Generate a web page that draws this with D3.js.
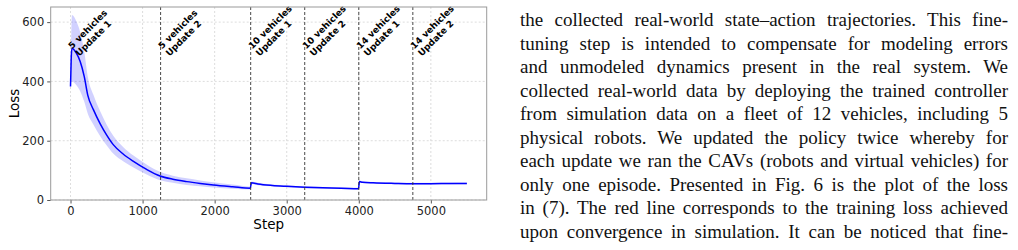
<!DOCTYPE html>
<html>
<head>
<meta charset="utf-8">
<script src="https://cdn.jsdelivr.net/npm/d3@7"></script>
<style>
  body { margin: 0; background: #fff; }
  #wrap { position: relative; width: 1018px; height: 250px; overflow: hidden; }
  #chart { position: absolute; left: 0; top: 0; }
  #para { position: absolute; left: 520px; top: 8px; width: 488px;
          font-family: "Liberation Serif", "Times New Roman", serif; font-size: 19px;
          line-height: 23.5px; color: #111; }
  #para div { text-align: justify; text-align-last: justify; white-space: nowrap; }
</style>
</head>
<body>
<div id="wrap">
  <svg id="chart" width="520" height="250"></svg>
  <div id="para"></div>
</div>
<script>
// values
const steps = [0, 10, 20, 79, 134, 190, 241, 319, 412, 500, 596, 730, 873, 1050, 1243, 1420, 1613, 1800, 1982, 2250, 2495,
    2510, 2600, 2800, 3000, 3250, 3500, 3750, 3995,
    4010, 4050, 4200, 4500, 4750, 5000, 5250, 5500];
const meanLoss = [383, 480, 512, 496, 467, 417, 352, 304, 257, 220, 186, 155, 130, 104, 81, 70, 62, 56, 51, 45, 40,
    58, 54, 49, 46, 43, 41, 40, 38,
    62, 60, 58, 56, 55, 55, 55.5, 56];
const sdLoss = [15, 80, 112, 108, 100, 85, 62, 50, 42, 35, 30, 24, 20, 17, 14, 12, 11, 10, 9, 7, 5,
    4, 4, 3, 3, 3, 3, 3, 3,
    4, 3, 3, 3, 3, 3, 3, 3];

const updateSteps = [0, 1250, 2500, 3250, 4000, 4750];
const updateLabels = [["5 vehicles", "Update 1"], ["5 vehicles", "Update 2"], ["10 vehicles", "Update 1"],
    ["10 vehicles", "Update 2"], ["14 vehicles", "Update 1"], ["14 vehicles", "Update 2"]];
const xTicks = [0, 1000, 2000, 3000, 4000, 5000];
const yTicks = [0, 200, 400, 600];

const textLines = [
    "the collected real-world state\u2013action trajectories. This fine-",
    "tuning step is intended to compensate for modeling errors",
    "and unmodeled dynamics present in the real system. We",
    "collected real-world data by deploying the trained controller",
    "from simulation data on a fleet of 12 vehicles, including 5",
    "physical robots. We updated the policy twice whereby for",
    "each update we ran the CAVs (robots and virtual vehicles) for",
    "only one episode. Presented in Fig. 6 is the plot of the loss",
    "in (7). The red line corresponds to the training loss achieved",
    "upon convergence in simulation. It can be noticed that fine-"
];

const data = steps.map((s, i) => ({step: s, mean: meanLoss[i], sd: sdLoss[i]}));

const svg = d3.select("#chart");
const margin = {left: 50.7, right: 486.7, top: 7, bottom: 200};
const font = "DejaVu Sans, sans-serif";

const x = d3.scaleLinear().domain([-275, 5775]).range([margin.left, margin.right]);
const y = d3.scaleLinear().domain([0, 651]).range([margin.bottom, margin.top]);

// grid
const grid = svg.append("g");
grid.selectAll(".gx").data(xTicks).join("line")
    .attr("x1", d => x(d)).attr("x2", d => x(d))
    .attr("y1", margin.top).attr("y2", margin.bottom)
    .attr("stroke", "#d4d4d4").attr("stroke-width", 0.8).attr("stroke-dasharray", "2,2");
grid.selectAll(".gy").data(yTicks).join("line")
    .attr("x1", margin.left).attr("x2", margin.right)
    .attr("y1", d => y(d)).attr("y2", d => y(d))
    .attr("stroke", "#d4d4d4").attr("stroke-width", 0.8).attr("stroke-dasharray", "2,2");

// std band + mean line
svg.append("path")
    .datum(data)
    .attr("fill", "#0000ff")
    .attr("fill-opacity", 0.18)
    .attr("d", d3.area().curve(d3.curveMonotoneX)
        .x(d => x(d.step))
        .y0(d => y(d.mean - d.sd))
        .y1(d => y(d.mean + d.sd)));

svg.append("path")
    .datum(data)
    .attr("fill", "none")
    .attr("stroke", "#0000ff")
    .attr("stroke-width", 1.5)
    .attr("d", d3.line().curve(d3.curveMonotoneX)
        .x(d => x(d.step))
        .y(d => y(d.mean)));

// update markers
svg.selectAll(".vline").data(updateSteps.slice(1)).join("line")
    .attr("x1", d => x(d)).attr("x2", d => x(d))
    .attr("y1", margin.top).attr("y2", margin.bottom)
    .attr("stroke", "#333").attr("stroke-width", 0.9).attr("stroke-dasharray", "3,2");

const lab = svg.selectAll(".lab").data(updateSteps).join("text")
    .attr("transform", d => `translate(${x(d) + 1.5},${y(508)}) rotate(-45)`)
    .attr("font-family", font)
    .attr("font-size", "9px")
    .attr("font-weight", "bold")
    .attr("fill", "#000");
lab.selectAll("tspan").data((d, i) => updateLabels[i]).join("tspan")
    .attr("x", 0)
    .attr("dy", (d, i) => i === 0 ? 0 : "1.15em")
    .text(d => d);

// axes
const xAxis = svg.append("g")
    .attr("transform", `translate(0,${margin.bottom})`)
    .call(d3.axisBottom(x).tickValues(xTicks).tickSize(3.5).tickPadding(3).tickFormat(d3.format("d")));
const yAxis = svg.append("g")
    .attr("transform", `translate(${margin.left},0)`)
    .call(d3.axisLeft(y).tickValues(yTicks).tickSize(3.5).tickPadding(3).tickFormat(d3.format("d")));
[xAxis, yAxis].forEach(a => {
    a.select(".domain").remove();
    a.selectAll("text").attr("font-family", font).style("font-size", "11.5px").attr("fill", "#222");
    a.selectAll("line").attr("stroke", "#555");
});

// frame
svg.append("rect")
    .attr("x", margin.left).attr("y", margin.top)
    .attr("width", margin.right - margin.left).attr("height", margin.bottom - margin.top)
    .attr("fill", "none").attr("stroke", "#9a9a9a").attr("stroke-width", 1);

svg.append("text")
    .attr("x", (margin.left + margin.right) / 2).attr("y", 229)
    .attr("text-anchor", "middle")
    .attr("font-family", font).attr("font-size", "13.5px")
    .text("Step");
svg.append("text")
    .attr("transform", `translate(19,${(margin.top + margin.bottom) / 2}) rotate(-90)`)
    .attr("text-anchor", "middle")
    .attr("font-family", font).attr("font-size", "13.5px")
    .text("Loss");

// paragraph beside the figure
d3.select("#para").selectAll("div").data(textLines).join("div").text(d => d);
</script>
</body>
</html>
